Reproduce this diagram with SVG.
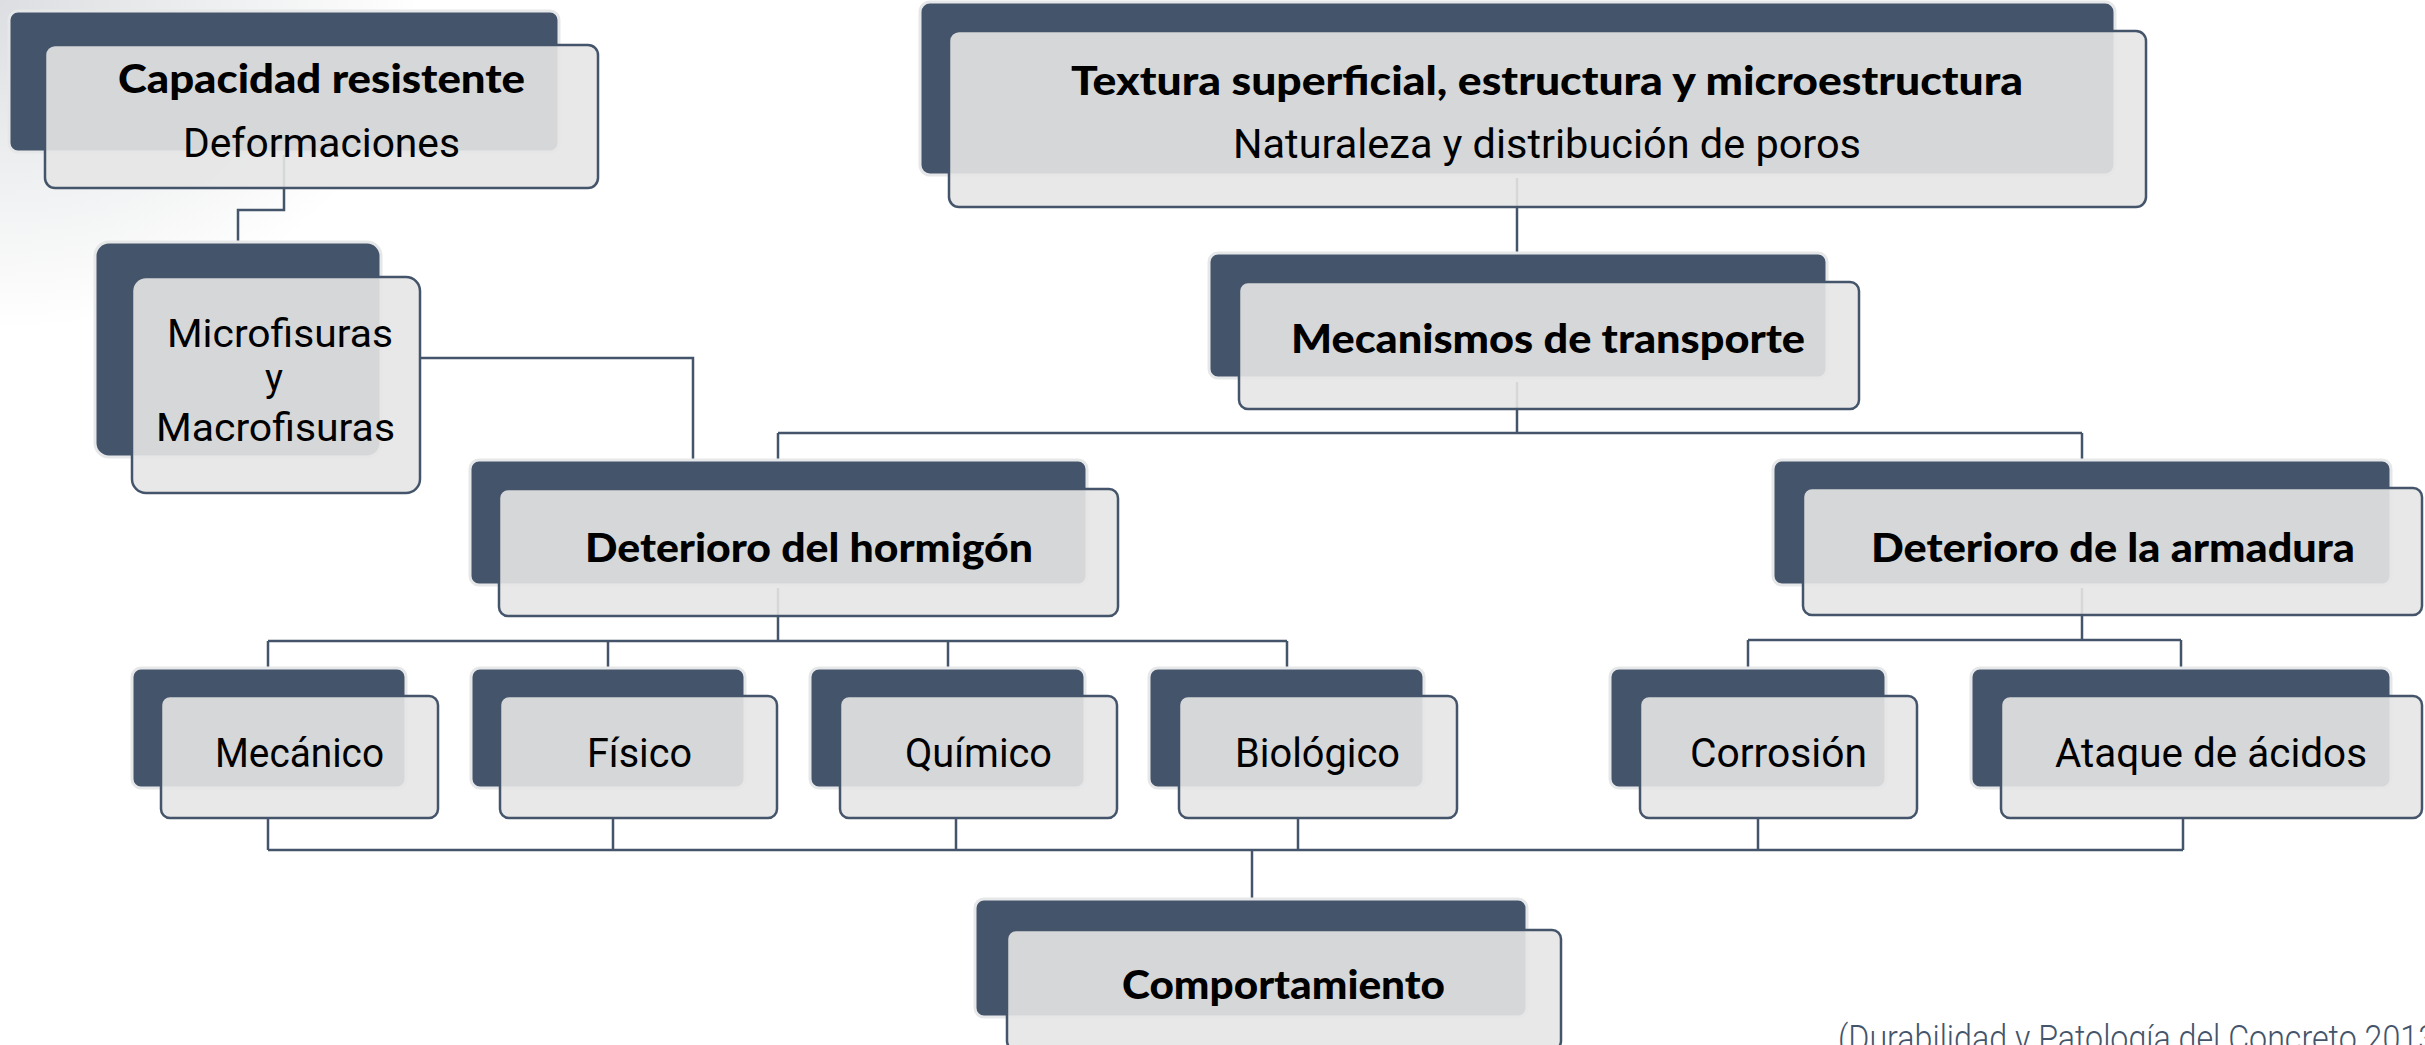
<svg xmlns="http://www.w3.org/2000/svg" width="2425" height="1045" viewBox="0 0 2425 1045">
<defs>
<radialGradient id="corner" cx="0" cy="0" r="1" gradientUnits="objectBoundingBox">
<stop offset="0" stop-color="#dcdee1"/>
<stop offset="0.6" stop-color="#f1f2f3"/>
<stop offset="1" stop-color="#ffffff"/>
</radialGradient>
</defs>
<style>
.dk{fill:#44546a;stroke:#e6e7e9;stroke-width:3}
.lt{fill:#e6e6e6;fill-opacity:0.9;stroke:#44546a;stroke-width:2.5}
.ttl{font-family:"Lato","Roboto","Liberation Sans",sans-serif;font-weight:900;font-size:40px;fill:#000}
.reg{font-family:"Roboto","DejaVu Sans","Liberation Sans",sans-serif;font-weight:400;font-size:40px;fill:#000}
.sm{font-size:38px}
.cite{font-family:"Roboto","Liberation Sans",sans-serif;font-weight:300;font-size:36px;fill:#44546a}
.cn{fill:none;stroke:#44546a;stroke-width:2.5}
</style>
<rect width="2425" height="1045" fill="#ffffff"/>
<rect x="0" y="0" width="420" height="330" fill="url(#corner)"/>

<g id="connectors" class="cn">
<path d="M284,155 V210 H238 V242"/>
<path d="M420,358 H693 V460"/>
<path d="M1517,178 V253"/>
<path d="M1517,382 V433"/>
<path d="M778,433 H2082"/>
<path d="M778,433 V460"/>
<path d="M2082,433 V460"/>
<path d="M778,588 V641"/>
<path d="M268,641 H1287"/>
<path d="M268,641 V668 M608,641 V668 M948,641 V668 M1287,641 V668"/>
<path d="M2082,588 V640"/>
<path d="M1748,640 H2181"/>
<path d="M1748,640 V668 M2181,640 V668"/>
<path d="M268,818 V850 M613,818 V850 M956,818 V850 M1298,818 V850 M1758,818 V850 M2183,818 V850"/>
<path d="M268,850 H2183"/>
<path d="M1252,850 V899"/>
</g>

<g id="capacidad">
<rect class="dk" x="9" y="11" width="550" height="141" rx="9"/>
<rect class="lt" x="45" y="45" width="553" height="143" rx="10"/>
<text class="ttl" x="118" y="93" textLength="407" lengthAdjust="spacingAndGlyphs">Capacidad resistente</text>
<text class="reg" x="183" y="157" textLength="277" lengthAdjust="spacingAndGlyphs">Deformaciones</text>
</g>

<g id="microfisuras">
<rect class="dk" x="95" y="242" width="286" height="215" rx="14"/>
<rect class="lt" x="132" y="277" width="288" height="216" rx="14"/>
<text class="reg sm" x="167" y="347" textLength="226" lengthAdjust="spacingAndGlyphs">Microfisuras</text>
<text class="reg sm" x="274" y="391" text-anchor="middle">y</text>
<text class="reg sm" x="156" y="441" textLength="239" lengthAdjust="spacingAndGlyphs">Macrofisuras</text>
</g>

<g id="textura">
<rect class="dk" x="920" y="2" width="1195" height="173" rx="10"/>
<rect class="lt" x="949" y="31" width="1197" height="176" rx="10"/>
<text class="ttl" x="1071" y="95" textLength="952" lengthAdjust="spacingAndGlyphs">Textura superficial, estructura y microestructura</text>
<text class="reg" x="1233" y="158" textLength="628" lengthAdjust="spacingAndGlyphs">Naturaleza y distribución de poros</text>
</g>

<g id="mecanismos">
<rect class="dk" x="1209" y="253" width="618" height="125" rx="9"/>
<rect class="lt" x="1239" y="282" width="620" height="127" rx="9"/>
<text class="ttl" x="1291" y="353" textLength="514" lengthAdjust="spacingAndGlyphs">Mecanismos de transporte</text>
</g>

<g id="deterioro-hormigon">
<rect class="dk" x="470" y="460" width="617" height="125" rx="9"/>
<rect class="lt" x="499" y="489" width="619" height="127" rx="9"/>
<text class="ttl" x="585" y="562" textLength="448" lengthAdjust="spacingAndGlyphs">Deterioro del hormigón</text>
</g>

<g id="deterioro-armadura">
<rect class="dk" x="1773" y="460" width="618" height="125" rx="9"/>
<rect class="lt" x="1803" y="488" width="619" height="127" rx="9"/>
<text class="ttl" x="1871" y="562" textLength="484" lengthAdjust="spacingAndGlyphs">Deterioro de la armadura</text>
</g>

<g id="mecanico">
<rect class="dk" x="132" y="668" width="274" height="120" rx="9"/>
<rect class="lt" x="161" y="696" width="277" height="122" rx="9"/>
<text class="reg" x="215" y="767" textLength="169" lengthAdjust="spacingAndGlyphs">Mecánico</text>
</g>

<g id="fisico">
<rect class="dk" x="471" y="668" width="274" height="120" rx="9"/>
<rect class="lt" x="500" y="696" width="277" height="122" rx="9"/>
<text class="reg" x="587" y="767" textLength="105" lengthAdjust="spacingAndGlyphs">Físico</text>
</g>

<g id="quimico">
<rect class="dk" x="810" y="668" width="275" height="120" rx="9"/>
<rect class="lt" x="840" y="696" width="277" height="122" rx="9"/>
<text class="reg" x="905" y="767" textLength="147" lengthAdjust="spacingAndGlyphs">Químico</text>
</g>

<g id="biologico">
<rect class="dk" x="1149" y="668" width="275" height="120" rx="9"/>
<rect class="lt" x="1179" y="696" width="278" height="122" rx="9"/>
<text class="reg" x="1235" y="767" textLength="165" lengthAdjust="spacingAndGlyphs">Biológico</text>
</g>

<g id="corrosion">
<rect class="dk" x="1610" y="668" width="276" height="120" rx="9"/>
<rect class="lt" x="1640" y="696" width="277" height="122" rx="9"/>
<text class="reg" x="1690" y="767" textLength="177" lengthAdjust="spacingAndGlyphs">Corrosión</text>
</g>

<g id="ataque">
<rect class="dk" x="1971" y="668" width="420" height="120" rx="9"/>
<rect class="lt" x="2001" y="696" width="421" height="122" rx="9"/>
<text class="reg" x="2055" y="767" textLength="312" lengthAdjust="spacingAndGlyphs">Ataque de ácidos</text>
</g>

<g id="comportamiento">
<rect class="dk" x="975" y="899" width="552" height="118" rx="9"/>
<rect class="lt" x="1007" y="930" width="554" height="120" rx="9"/>
<text class="ttl" x="1122" y="999" textLength="323" lengthAdjust="spacingAndGlyphs">Comportamiento</text>
</g>

<g id="cita">
<text class="cite" x="1838" y="1051" textLength="598" lengthAdjust="spacingAndGlyphs">(Durabilidad y Patología del Concreto 2013</text>
</g>
</svg>
